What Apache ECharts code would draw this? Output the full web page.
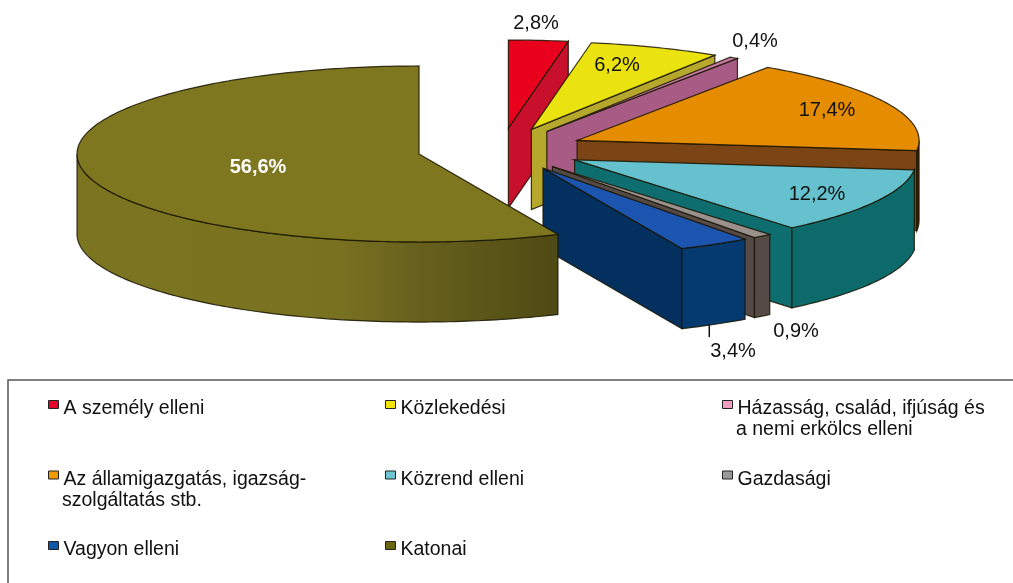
<!DOCTYPE html>
<html>
<head>
<meta charset="utf-8">
<style>
  html, body { margin: 0; padding: 0; background: #fff; }
  #chart { width: 1013px; height: 583px; }
</style>
<script src="https://cdn.jsdelivr.net/npm/echarts@6/dist/echarts.min.js"></script>
</head>
<body>
<div id="chart"></div>
<script>
// data
var categories = [
  'A személy elleni',
  'Közlekedési',
  'Házasság, család, ifjúság és\na nemi erkölcs elleni',
  'Az államigazgatás, igazság-\nszolgáltatás stb.',
  'Közrend elleni',
  'Gazdasági',
  'Vagyon elleni',
  'Katonai'
];
var shares = [2.8, 6.2, 0.4, 17.4, 12.2, 0.9, 3.4, 56.6];
var shareLabels = ['2,8%', '6,2%', '0,4%', '17,4%', '12,2%', '0,9%', '3,4%', '56,6%'];

// styles
var topColors = ['#e8001c', '#ebe30f', '#c77aa3', '#e68c00', '#66c1cf', '#9a908c', '#1b55b0', '#7e771f'];
var wallColors = ['#c80f2b', '#b5a82c', '#a85c85', '#7a4415', '#0e6d6e', '#554a46', '#03305f', '#7e771f'];
var arcColors = ['#c80f2b', '#b5a82c', '#a85c85', '#3d2208', '#0c6a6a', '#554a46', '#053a70', '#7e771f'];
var legendColors = ['#e4002b', '#f2e500', '#f29bc1', '#ef9b00', '#6cc5d1', '#999999', '#0f56a8', '#6b6510'];
var labelSpots = [[536, 23], [617, 65], [755, 41], [827, 110], [817, 194], [796, 331], [733, 351], [258, 167]];
var legendColumns = [[0, 3, 6], [1, 4, 7], [2, 5]];
var legendLeft = [48, 385, 722];
var explode = 0.245;
var depth = 0.91;
var leaderSlice = 6;
var fontName = '"Liberation Sans", Arial, sans-serif';

var edge = { stroke: 'rgba(25,20,0,0.85)', lineWidth: 1.2 };

var total = shares.reduce(function (a, b) { return a + b; }, 0);

function polar(a, r, ox, oy) {
  var rad = a * Math.PI / 180;
  return [ox + r * Math.sin(rad), oy + r * Math.cos(rad)];
}

// one slice: walls first, top face last
function renderSlice(params, api) {
  var i = params.seriesIndex;
  var from = api.value(0) / total * 360;
  var to = api.value(1) / total * 360;
  var mid = (from + to) / 2;
  var o = polar(mid, explode, 0, 0);
  var h = api.size([0, depth])[1];
  var apex = api.coord(o);
  var children = [];

  function arc(a, b) {
    var pts = [];
    var n = Math.max(2, Math.ceil(Math.abs(b - a)));
    for (var k = 0; k <= n; k++) {
      pts.push(api.coord(polar(a + (b - a) * k / n, 1, o[0], o[1])));
    }
    return pts;
  }
  function down(pts) {
    return pts.map(function (p) { return [p[0], p[1] + h]; }).reverse();
  }
  function wall(angle) {
    var rim = arc(angle, angle);
    var line = [apex, rim[0]];
    children.push({
      type: 'polygon',
      shape: { points: line.concat(down(line)) },
      style: Object.assign({ fill: wallColors[i] }, edge)
    });
  }

  if (to < 180) wall(to);
  if (from > 180) wall(from);

  var a0 = Math.max(from, 90);
  var a1 = Math.min(to, 270);
  if (a1 > a0) {
    var rim = arc(a0, a1);
    var fill = arcColors[i];
    if (i === 7) {
      fill = new echarts.graphic.LinearGradient(0, 0, 1, 0, [
        { offset: 0, color: '#7c7520' },
        { offset: 0.55, color: '#787120' },
        { offset: 0.72, color: '#665f1c' },
        { offset: 1, color: '#4f4a14' }
      ]);
    }
    children.push({
      type: 'polygon',
      shape: { points: rim.concat(down(rim)) },
      style: Object.assign({ fill: fill }, edge)
    });
  }

  children.push({
    type: 'polygon',
    shape: { points: [apex].concat(arc(from, to)) },
    style: Object.assign({ fill: topColors[i] }, edge)
  });

  if (i === leaderSlice) {
    var foot = api.coord(polar(mid + 1, 1, o[0], o[1]));
    children.push({
      type: 'line',
      shape: { x1: foot[0], y1: foot[1] + h, x2: foot[0], y2: foot[1] + h + 12 },
      style: { stroke: '#111', lineWidth: 1.5 }
    });
  }

  children.push({
    type: 'text',
    style: {
      text: shareLabels[i],
      x: labelSpots[i][0],
      y: labelSpots[i][1],
      align: 'center',
      verticalAlign: 'middle',
      fill: i === 7 ? '#fff' : '#111',
      font: (i === 7 ? 'bold ' : '') + '20px ' + fontName
    }
  });

  return { type: 'group', children: children };
}

var sum = 0;
var series = categories.map(function (name, i) {
  var start = sum;
  sum += shares[i];
  return {
    type: 'custom',
    name: name,
    z: 2 + i,
    silent: true,
    animation: false,
    itemStyle: { color: legendColors[i] },
    renderItem: renderSlice,
    data: [[start, sum]]
  };
});

var legends = legendColumns.map(function (col, c) {
  return {
    left: legendLeft[c],
    top: 390,
    orient: 'vertical',
    padding: 0,
    itemGap: 41.5,
    itemWidth: 10,
    itemHeight: 8,
    icon: 'rect',
    selectedMode: false,
    itemStyle: { borderColor: '#222', borderWidth: 1 },
    textStyle: {
      rich: {
        a: { fontFamily: fontName, fontSize: 19.5, color: '#111', lineHeight: 20, padding: [9, 0, 0, 0] }
      }
    },
    formatter: function (name) { return '{a|' + name.split('\n')[0] + '}'; },
    data: col.map(function (i) { return categories[i]; })
  };
});

// second lines of the long legend entries and the box around the legend
var graphics = [{
  type: 'polyline',
  shape: { points: [[8, 583], [8, 380], [1013, 380]] },
  style: { fill: 'none', stroke: '#555', lineWidth: 1.5 }
}];
legendColumns.forEach(function (col, c) {
  col.forEach(function (i, row) {
    var parts = categories[i].split('\n');
    if (parts.length > 1) {
      graphics.push({
        type: 'text',
        left: legendLeft[c] + 14,
        top: 397 + row * 70.5 + 23,
        style: { text: parts[1], font: '19.5px ' + fontName, fill: '#111', lineHeight: 20 }
      });
    }
  });
});

var chart = echarts.init(document.getElementById('chart'), null, { renderer: 'canvas' });
chart.setOption({
  backgroundColor: '#fff',
  animation: false,
  // one axis unit is one pie radius, the grid squeezes the circle into the ellipse
  grid: { left: 159, width: 684, top: 61.5, height: 176 },
  xAxis: { type: 'value', min: -1, max: 1, show: false },
  yAxis: { type: 'value', min: -1, max: 1, show: false },
  legend: legends,
  graphic: graphics,
  series: series
});
</script>
</body>
</html>
